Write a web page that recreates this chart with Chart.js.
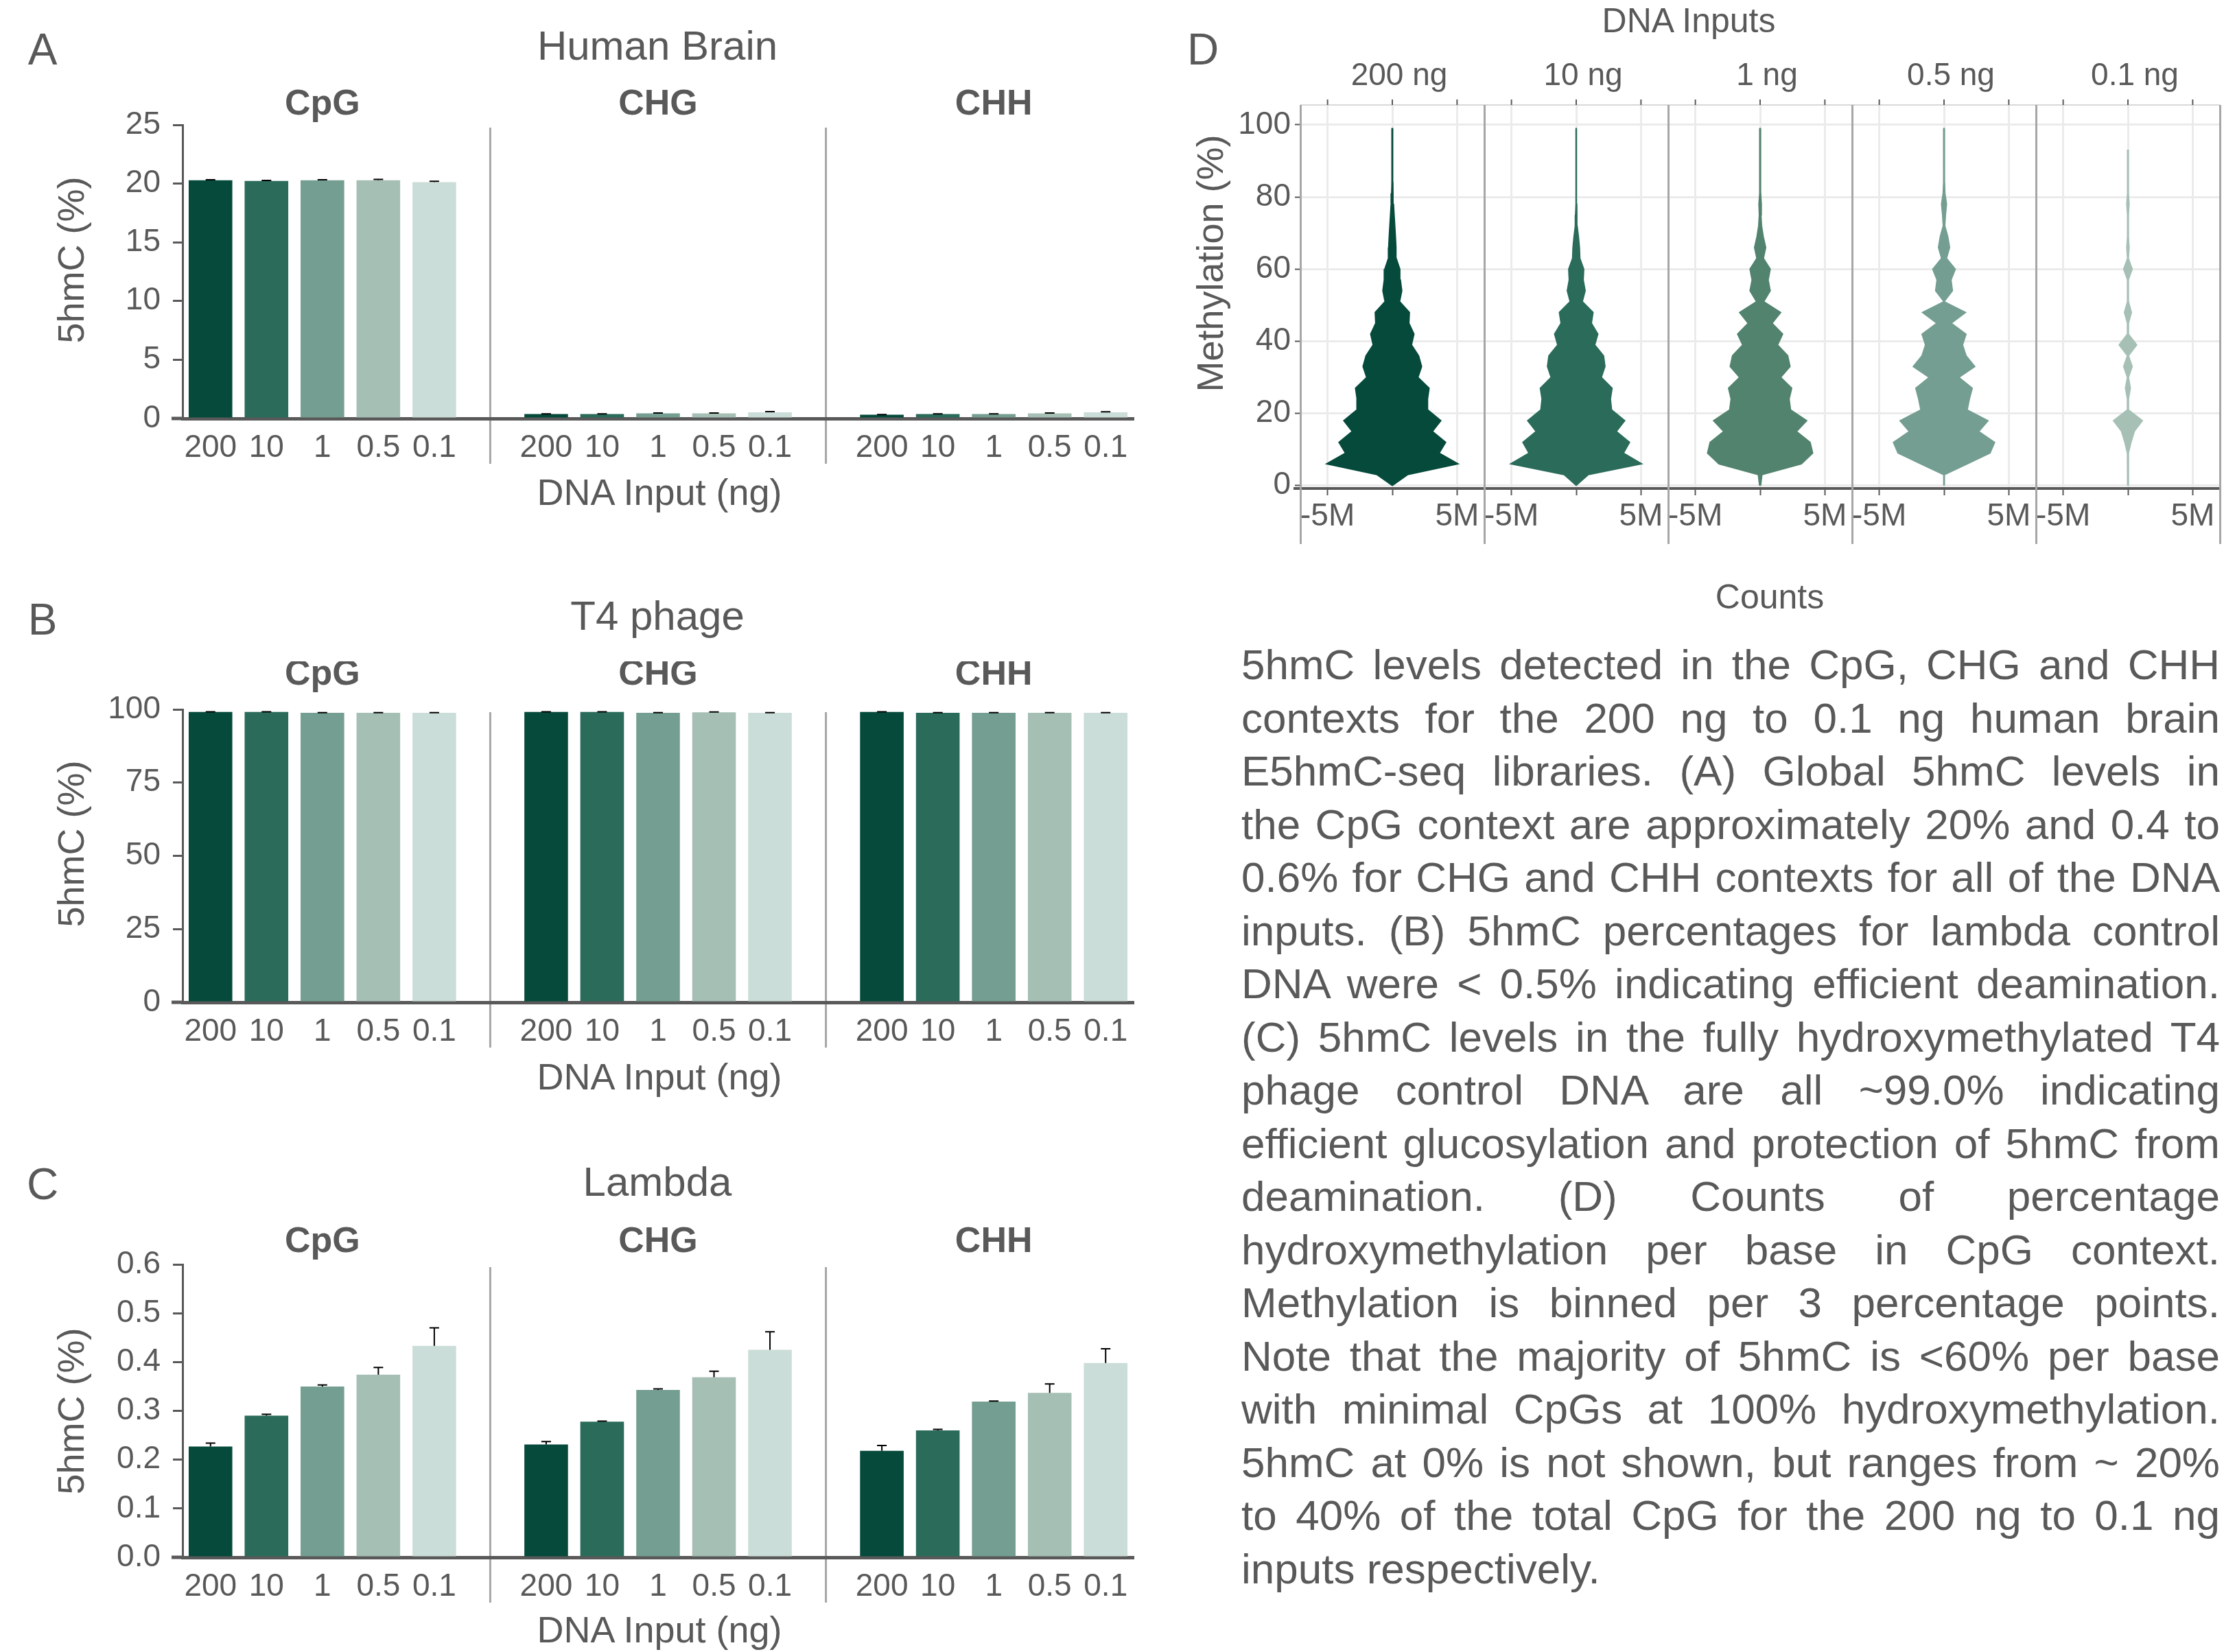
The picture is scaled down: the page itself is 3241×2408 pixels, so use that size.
<!DOCTYPE html>
<html lang="en">

<head>
    <meta charset="UTF-8">
    <title>E5hmC-seq 5hmC levels</title>
    <style>
        body {
            margin: 0;
            background: #fff;
        }

        #page {
            position: relative;
            width: 3241px;
            height: 2408px;
            overflow: hidden;
            font-family: "Liberation Sans", Arial, sans-serif;
            color: #595959;
        }

        canvas {
            position: absolute;
        }

        .lbl {
            position: absolute;
            transform: translate(-50%, -50%);
            white-space: nowrap;
        }

        .letter { font-size: 64px; }
        .title { font-size: 60px; }
        .axis-title { font-size: 54px; }
        .facet { font-size: 46px; }

        .vert {
            transform: translate(-50%, -50%) rotate(-90deg);
        }

        .sep {
            position: absolute;
            width: 3px;
            background: #a6a6a6;
        }

        #caption {
            position: absolute;
            left: 1809px;
            top: 930px;
            width: 1426px;
            font-size: 62px;
            line-height: 77.5px;
        }

        #caption div {
            text-align: justify;
            text-align-last: justify;
        }

        #caption div.last {
            text-align-last: left;
        }
    </style>
</head>

<body>
    <div id="page">
        <!-- Panel letters and titles -->
        <div class="lbl letter" style="left:62px; top:72px">A</div>
        <div class="lbl letter" style="left:62px; top:903px">B</div>
        <div class="lbl letter" style="left:62px; top:1726px">C</div>
        <div class="lbl letter" style="left:1753px; top:72px">D</div>

        <div class="lbl title" style="left:958px; top:66px">Human Brain</div>
        <div class="lbl title" style="left:958px; top:897px">T4 phage</div>
        <div class="lbl title" style="left:958px; top:1722px">Lambda</div>

        <div class="lbl axis-title vert" style="left:103px; top:379px">5hmC (%)</div>
        <div class="lbl axis-title vert" style="left:103px; top:1230px">5hmC (%)</div>
        <div class="lbl axis-title vert" style="left:103px; top:2057px">5hmC (%)</div>

        <div class="lbl axis-title" style="left:961px; top:717px">DNA Input (ng)</div>
        <div class="lbl axis-title" style="left:961px; top:1569px">DNA Input (ng)</div>
        <div class="lbl axis-title" style="left:961px; top:2375px">DNA Input (ng)</div>

        <!-- Panel D titles -->
        <div class="lbl" style="left:2461px; top:30px; font-size:50px">DNA Inputs</div>
        <div class="lbl" style="left:2579px; top:870px; font-size:50px">Counts</div>
        <div class="lbl axis-title vert" style="left:1763px; top:384px">Methylation (%)</div>

        <canvas id="chartA" width="1700" height="608" style="left:0px; top:112px"></canvas>
        <canvas id="chartB" width="1700" height="607" style="left:0px; top:964px"></canvas>
        <canvas id="chartC" width="1700" height="607" style="left:0px; top:1773px"></canvas>

        <div id="caption">
            <div>5hmC levels detected in the CpG, CHG and CHH</div>
            <div>contexts for the 200 ng to 0.1 ng human brain</div>
            <div>E5hmC-seq libraries. (A) Global 5hmC levels in</div>
            <div>the CpG context are approximately 20% and 0.4 to</div>
            <div>0.6% for CHG and CHH contexts for all of the DNA</div>
            <div>inputs. (B) 5hmC percentages for lambda control</div>
            <div>DNA were &lt; 0.5% indicating efficient deamination.</div>
            <div>(C) 5hmC levels in the fully hydroxymethylated T4</div>
            <div>phage control DNA are all ~99.0% indicating</div>
            <div>efficient glucosylation and protection of 5hmC from</div>
            <div>deamination. (D) Counts of percentage</div>
            <div>hydroxymethylation per base in CpG context.</div>
            <div>Methylation is binned per 3 percentage points.</div>
            <div>Note that the majority of 5hmC is &lt;60% per base</div>
            <div>with minimal CpGs at 100% hydroxymethylation.</div>
            <div>5hmC at 0% is not shown, but ranges from ~ 20%</div>
            <div>to 40% of the total CpG for the 200 ng to 0.1 ng</div>
            <div class="last">inputs respectively.</div>
        </div>
    </div>

    <script src="https://cdn.jsdelivr.net/npm/chart.js"></script>
    <script>
        // ---- data ----
        const inputs = ['200', '10', '1', '0.5', '0.1'];
        const contexts = ['CpG', 'CHG', 'CHH'];
        const barColors = ['#054a3b', '#2a6b5a', '#749e91', '#a6bfb5', '#cbddd8'];

        // Human brain (A)
        const brainCpG = [20.29, 20.23, 20.29, 20.29, 20.12];
        const brainCpGErr = [0.04, 0.04, 0.04, 0.06, 0.08];
        const brainCHG = [0.38, 0.38, 0.44, 0.44, 0.53];
        const brainCHGErr = [0.02, 0.02, 0.02, 0.03, 0.05];
        const brainCHH = [0.32, 0.38, 0.38, 0.44, 0.53];
        const brainCHHErr = [0.02, 0.02, 0.02, 0.03, 0.04];
        const brainTicks = [0, 5, 10, 15, 20, 25];

        // T4 phage (B)
        const t4CpG = [99.1, 99.1, 98.8, 98.8, 98.8];
        const t4CpGErr = [0.1, 0.1, 0.1, 0.1, 0.1];
        const t4CHG = [99.1, 99.1, 98.8, 99.0, 98.8];
        const t4CHGErr = [0.1, 0.1, 0.1, 0.1, 0.1];
        const t4CHH = [99.1, 98.8, 98.8, 98.8, 98.8];
        const t4CHHErr = [0.1, 0.1, 0.1, 0.1, 0.1];
        const t4Ticks = [0, 25, 50, 75, 100];

        // Lambda (C)
        const lambdaCpG = [0.227, 0.290, 0.350, 0.374, 0.433];
        const lambdaCpGErr = [0.007, 0.003, 0.003, 0.015, 0.037];
        const lambdaCHG = [0.231, 0.278, 0.343, 0.369, 0.425];
        const lambdaCHGErr = [0.006, 0.001, 0.002, 0.012, 0.037];
        const lambdaCHH = [0.218, 0.260, 0.319, 0.337, 0.398];
        const lambdaCHHErr = [0.011, 0.002, 0.001, 0.018, 0.029];
        const lambdaTicks = [0, 0.1, 0.2, 0.3, 0.4, 0.5, 0.6];

        // Panel D: mirrored counts (millions) per 3% methylation bin, null = empty bin
        const facetNames = ['200 ng', '10 ng', '1 ng', '0.5 ng', '0.1 ng'];
        const violinColors = ['#054a3b', '#2a6b5a', '#52836e', '#749e91', '#a6c0b6'];
        const methylBins = [0, 3, 6, 9, 12, 15, 18, 21, 24, 27, 30, 33, 36, 39, 42, 45, 48,
            51, 54, 57, 60, 63, 66, 69, 72, 75, 78, 81, 84, 87, 90, 93, 96, 99];
        const counts200 = [0, 1.18, 5.1, 3.63, 4.13, 3.11, 3.76, 2.74, 2.73, 2.85, 1.99, 2.27, 2.04, 1.49, 1.68, 1.29, 1.33,
            0.57, 0.74, 0.63, 0.59, 0.31, 0.29, 0.25, 0.2, 0.15, 0.1, 0.06, 0.05, 0.04, 0.04, 0.03, 0.03, 0.03];
        const counts10 = [0, 0.94, 5.08, 3.66, 4.13, 3.11, 3.76, 2.74, 2.65, 2.78, 1.95, 2.23, 2.12, 1.44, 1.68, 1.18, 1.31,
            0.48, 0.7, 0.55, 0.59, 0.29, 0.26, 0.18, 0.08, 0.06, 0.05, 0.03, 0.02, 0.02, 0.02, 0.02, 0.02, 0.02];
        const counts1 = [0.05, 0.15, 3.19, 4.07, 3.87, 2.82, 3.61, 2.36, 2.25, 2.45, 1.6, 2.32, 2.14, 1.36, 1.75, 0.94, 1.6,
            0.29, 0.79, 0.63, 0.79, 0.26, 0.44, 0.25, 0.12, 0.07, 0.1, 0.05, 0.04, 0.04, 0.04, 0.04, 0.04, 0.04];
        const counts05 = [0.03, 0.03, 1.8, 3.56, 3.92, 2.69, 3.41, 1.8, 1.97, 2.19, 1.16, 2.39, 1.71, 1.44, 1.71, 0.57, 1.68,
            0.02, 0.66, 0.55, 0.88, 0.2, 0.44, 0.3, 0.07, 0.12, 0.2, 0.08, 0.05, 0.04, 0.04, 0.04, 0.04, 0.04];
        const counts01 = [0.04, 0.04, 0.04, 0.05, 0.25, 0.5, 1.13, 0.05, 0.05, 0.2, 0.05, 0.34, 0.05, 0.69, 0.05, 0.05, 0.28,
            0.05, 0.04, 0.04, 0.34, 0.04, 0.1, 0.04, 0.04, 0.04, 0.1, 0.04, 0.04, 0.04, 0.04, 0.04, null, null];
        const facetCounts = [counts200, counts10, counts1, counts05, counts01];
        const countTicks = [-5, 0, 5];
        const countTickLabels = ['-5M', '', '5M'];
        const methylTicks = [0, 20, 40, 60, 80, 100];

        // ---- shared style ----
        const FONT = '"Liberation Sans", Arial, sans-serif';
        const GREY = '#595959';
        Chart.defaults.font.family = FONT;
        Chart.defaults.color = GREY;

        // 5 bars + gap + 5 bars + gap + 5 bars
        const slotLabels = [...inputs, '', ...inputs, '', ...inputs];
        const slotColors = [...barColors, 'transparent', ...barColors, 'transparent', ...barColors];
        const gapSlots = [5, 11];
        function slots(a, b, c) {
            return [...a, null, ...b, null, ...c];
        }

        // separators between contexts + bold context headers
        const groupDecor = {
            id: 'groupDecor',
            beforeDraw(chart, args, opts) {
                const { ctx, chartArea } = chart;
                const x = chart.scales.x;
                ctx.save();
                ctx.strokeStyle = '#a6a6a6';
                ctx.lineWidth = 3;
                gapSlots.forEach(idx => {
                    const px = x.getPixelForValue(idx);
                    ctx.beginPath();
                    ctx.moveTo(px, chartArea.top + 4);
                    ctx.lineTo(px, chartArea.bottom + 66);
                    ctx.stroke();
                });
                // axis line runs a little past the y axis
                ctx.strokeStyle = GREY;
                ctx.lineWidth = 5;
                ctx.beginPath();
                ctx.moveTo(chartArea.left - 16, chartArea.bottom);
                ctx.lineTo(chartArea.left, chartArea.bottom);
                ctx.stroke();
                ctx.fillStyle = GREY;
                ctx.font = 'bold 52px ' + FONT;
                ctx.textAlign = 'center';
                ctx.textBaseline = 'middle';
                contexts.forEach((name, g) => {
                    ctx.fillText(name, x.getPixelForValue(g * 6 + 2), chartArea.top - opts.headerGap);
                });
                ctx.restore();
            }
        };

        // upper error bars
        const errorBars = {
            id: 'errorBars',
            afterDatasetsDraw(chart, args, opts) {
                const { ctx } = chart;
                const y = chart.scales.y;
                const values = chart.data.datasets[0].data;
                ctx.save();
                ctx.strokeStyle = '#000';
                ctx.lineWidth = 2;
                chart.getDatasetMeta(0).data.forEach((bar, i) => {
                    const v = values[i];
                    const e = opts.errors[i];
                    if (v == null || !e) return;
                    const top = y.getPixelForValue(v + e);
                    ctx.beginPath();
                    ctx.moveTo(bar.x, y.getPixelForValue(v));
                    ctx.lineTo(bar.x, top);
                    ctx.moveTo(bar.x - 7, top);
                    ctx.lineTo(bar.x + 7, top);
                    ctx.stroke();
                });
                ctx.restore();
            }
        };

        function makeBarChart(id, values, errors, yTicks, fmt, headerGap) {
            return new Chart(document.getElementById(id), {
                type: 'bar',
                data: {
                    labels: slotLabels,
                    datasets: [{
                        data: values,
                        backgroundColor: slotColors,
                        barPercentage: 0.78,
                        categoryPercentage: 1.0
                    }]
                },
                options: {
                    responsive: false,
                    animation: false,
                    layout: { padding: { top: 70, right: 48, left: 0, bottom: 0 } },
                    plugins: {
                        legend: { display: false },
                        tooltip: { enabled: false },
                        errorBars: { errors: errors },
                        groupDecor: { headerGap: headerGap }
                    },
                    scales: {
                        x: {
                            grid: { display: false, drawTicks: false },
                            border: { color: GREY, width: 5 },
                            ticks: { font: { size: 46 }, color: GREY, padding: 16, autoSkip: false, maxRotation: 0 },
                            afterFit: s => { s.height = 110; }
                        },
                        y: {
                            min: yTicks[0],
                            max: yTicks[yTicks.length - 1],
                            afterBuildTicks: s => { s.ticks = yTicks.map(v => ({ value: v })); },
                            ticks: { font: { size: 46 }, color: GREY, padding: 18, callback: fmt },
                            grid: { drawOnChartArea: false, drawTicks: true, tickLength: 14, color: GREY, lineWidth: 3 },
                            border: { color: GREY, width: 3 },
                            afterFit: s => { s.width = 266; }
                        }
                    }
                },
                plugins: [groupDecor, errorBars]
            });
        }

        const plain = v => v;
        makeBarChart('chartA', slots(brainCpG, brainCHG, brainCHH),
            slots(brainCpGErr, brainCHGErr, brainCHHErr), brainTicks, plain, 29);
        makeBarChart('chartB', slots(t4CpG, t4CHG, t4CHH),
            slots(t4CpGErr, t4CHGErr, t4CHHErr), t4Ticks, plain, 50);
        makeBarChart('chartC', slots(lambdaCpG, lambdaCHG, lambdaCHH),
            slots(lambdaCpGErr, lambdaCHGErr, lambdaCHHErr), lambdaTicks, v => v.toFixed(1), 32);

        // ---- Panel D: one small chart per DNA input ----
        const facetEdges = [1895, 2163, 2431, 2699, 2967, 3235];
        const plotTop = 153;
        const plotH = 559;

        // thin frame line and tick marks along the top of each facet
        const facetFrame = {
            id: 'facetFrame',
            afterDraw(chart) {
                const { ctx, chartArea } = chart;
                const x = chart.scales.x;
                ctx.save();
                ctx.strokeStyle = '#d9d9d9';
                ctx.lineWidth = 2;
                ctx.beginPath();
                ctx.moveTo(chartArea.left, chartArea.top);
                ctx.lineTo(chartArea.right, chartArea.top);
                ctx.stroke();
                ctx.strokeStyle = GREY;
                x.ticks.forEach(t => {
                    const px = x.getPixelForValue(t.value);
                    ctx.beginPath();
                    ctx.moveTo(px, chartArea.top - 8);
                    ctx.lineTo(px, chartArea.top);
                    ctx.stroke();
                });
                if (chart.scales.y.options.ticks.display) {
                    ctx.lineWidth = 4;
                    ctx.beginPath();
                    ctx.moveTo(chartArea.left - 10, chartArea.bottom);
                    ctx.lineTo(chartArea.left, chartArea.bottom);
                    ctx.stroke();
                }
                ctx.restore();
            }
        };

        // right side up, left side back down -> closed mirrored shape (empty bins dropped)
        function violinPoints(counts) {
            const right = [];
            methylBins.forEach((m, i) => {
                if (counts[i] != null) right.push({ x: counts[i], y: m });
            });
            const left = right.map(p => ({ x: -p.x, y: p.y })).reverse();
            return right.concat(left);
        }

        const page = document.getElementById('page');
        facetNames.forEach((name, i) => {
            const first = i === 0;
            const axisW = first ? 130 : 0;
            const padL = first ? 0 : 10;
            const w = facetEdges[i + 1] - facetEdges[i];

            const cv = document.createElement('canvas');
            cv.width = axisW + padL + w + 10;
            cv.height = 40 + plotH + 100;
            cv.style.left = (facetEdges[i] - axisW - padL) + 'px';
            cv.style.top = (plotTop - 40) + 'px';
            page.appendChild(cv);

            new Chart(cv, {
                type: 'scatter',
                data: {
                    datasets: [{
                        data: violinPoints(facetCounts[i]),
                        showLine: true,
                        fill: 'shape',
                        backgroundColor: violinColors[i],
                        borderColor: violinColors[i],
                        borderWidth: 1.5,
                        pointRadius: 0,
                        tension: 0
                    }]
                },
                options: {
                    responsive: false,
                    animation: false,
                    layout: { padding: { top: 40, left: padL, right: 10, bottom: 0 } },
                    plugins: { legend: { display: false }, tooltip: { enabled: false } },
                    scales: {
                        x: {
                            type: 'linear',
                            min: -7.1,
                            max: 7.1,
                            afterBuildTicks: s => { s.ticks = countTicks.map(v => ({ value: v })); },
                            ticks: {
                                font: { size: 46 }, color: GREY, padding: 4, autoSkip: false, maxRotation: 0,
                                callback: (v, idx) => countTickLabels[idx]
                            },
                            grid: { color: '#ebebeb', lineWidth: 3, tickColor: GREY, tickLength: 10, tickWidth: 2 },
                            border: { color: GREY, width: 4 },
                            afterFit: s => { s.height = 100; }
                        },
                        y: {
                            min: -0.8,
                            max: 105.5,
                            afterBuildTicks: s => { s.ticks = methylTicks.map(v => ({ value: v })); },
                            ticks: { display: first, font: { size: 46 }, color: GREY, padding: 6 },
                            grid: { color: '#ebebeb', lineWidth: 3, drawTicks: first, tickColor: GREY, tickLength: 8, tickWidth: 2 },
                            border: { display: false },
                            afterFit: s => { s.width = axisW; }
                        }
                    }
                },
                plugins: [facetFrame]
            });

            const lbl = document.createElement('div');
            lbl.className = 'lbl facet';
            lbl.style.left = (facetEdges[i] + w / 2 + 10) + 'px';
            lbl.style.top = '108px';
            lbl.textContent = name;
            page.appendChild(lbl);
        });

        // grey facet borders running through the axis labels
        facetEdges.forEach(x => {
            const d = document.createElement('div');
            d.className = 'sep';
            d.style.left = (x - 1.5) + 'px';
            d.style.top = plotTop + 'px';
            d.style.height = '640px';
            page.appendChild(d);
        });
    </script>
</body>

</html>
